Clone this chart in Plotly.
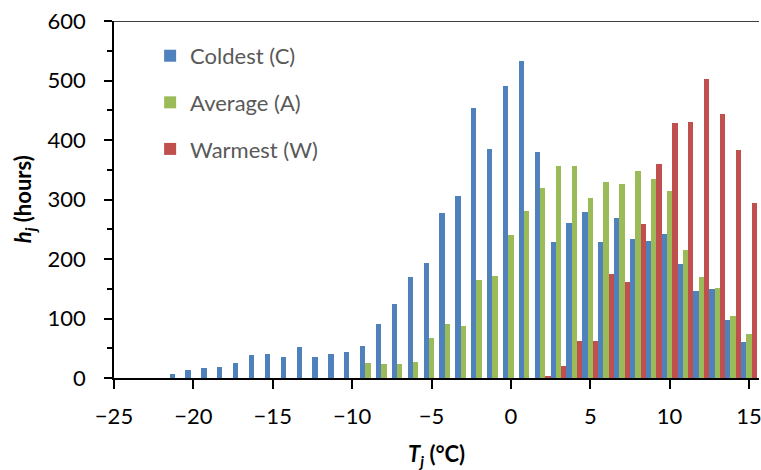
import plotly.graph_objects as go

temps = list(range(-21, 16))
coldest = [6, 13, 17, 18, 26, 39, 40, 35, 52, 36, 40, 43, 53, 90, 124, 169, 194, 278, 306, 454,
           385, 490, 533, 380, 228, 261, 279, 228, 269, 233, 230, 242, 191, 146, 150, 97, 61]
average = [0, 0, 0, 0, 0, 0, 0, 0, 0, 0, 0, 0, 25, 23, 24, 27, 67, 90, 88, 164,
           172, 240, 280, 320, 357, 356, 302, 329, 326, 348, 335, 315, 215, 169, 151, 105, 74]
warmest = [0, 0, 0, 0, 0, 0, 0, 0, 0, 0, 0, 0, 0, 0, 0, 0, 0, 0, 0, 0,
           0, 0, 0, 3, 21, 62, 62, 174, 162, 259, 360, 428, 430, 503, 444, 384, 294]
names = ["Coldest (C)", "Average (A)", "Warmest (W)"]
colors = ["#4F81BD", "#9BBB59", "#C0504D"]
x_ticks = [-25, -20, -15, -10, -5, 0, 5, 10, 15]
y_ticks = [0, 100, 200, 300, 400, 500, 600]

FONT = "Lato"
fig = go.Figure()
for name, vals, col in zip(names, [coldest, average, warmest], colors):
    fig.add_trace(go.Bar(x=temps, y=vals, name=name, marker=dict(color=col, line=dict(width=0)),
                         legendgroup=name))

xr = [-25, 15.63]
yr = [0, 600]
fig.update_layout(
    width=761, height=470, autosize=False,
    margin=dict(l=114, r=2, t=21, b=92, autoexpand=False),
    paper_bgcolor="white", plot_bgcolor="white",
    barmode="group", bargap=0, bargroupgap=0,
    font=dict(family=FONT, size=22, color="black"),
    showlegend=True,
    legend=dict(x=0.056, y=0.961, xanchor="left", yanchor="top",
                bgcolor="rgba(0,0,0,0)", tracegroupgap=15,
                font=dict(family=FONT, size=22, color="#595959"),
                traceorder="grouped"),
    xaxis=dict(range=xr, tickvals=x_ticks, ticks="outside", ticklen=9, tickwidth=1.5,
               tickcolor="black", showline=True, linecolor="black", linewidth=1.5,
               showgrid=False, zeroline=False, ticklabelstandoff=9, automargin=False,
               ticklabeloverflow="allow",
               tickfont=dict(family=FONT, size=22, color="black")),
    yaxis=dict(range=yr, tickvals=y_ticks, ticks="outside", ticklen=8, tickwidth=1.5,
               tickcolor="black", showline=True, linecolor="black", linewidth=1.5,
               showgrid=False, zeroline=False, ticklabelstandoff=14, automargin=False,
               ticklabeloverflow="allow",
               minor=dict(ticks="outside", ticklen=5, tickwidth=1.5, tickcolor="black", dtick=50),
               tickfont=dict(family=FONT, size=22, color="black")),
    xaxis2=dict(range=xr, overlaying="x", anchor="y", side="bottom", tickvals=x_ticks,
                ticks="inside", ticklen=9, tickwidth=1.5, tickcolor="black", automargin=False,
                showticklabels=False, showline=False, showgrid=False, zeroline=False),
    yaxis2=dict(range=yr, overlaying="y", anchor="x", side="left", tickvals=y_ticks,
                ticks="inside", ticklen=8, tickwidth=1.5, tickcolor="black", automargin=False,
                showticklabels=False, showline=False, showgrid=False, zeroline=False),
    shapes=[dict(type="line", xref="paper", yref="y", x0=0, x1=1, y0=600, y1=600,
                 line=dict(color="black", width=1.5))],
    annotations=[
        dict(text="<b><i>h</i><sub><i>j</i></sub> (hours)</b>", xref="paper", yref="paper",
             x=-0.140, y=0.5, xanchor="center", yanchor="middle", textangle=-90,
             showarrow=False, font=dict(family=FONT, size=22, color="black")),
        dict(text="<b><i>T</i><sub><i>j</i></sub> (°C)</b>", xref="paper", yref="paper",
             x=0.5, y=-0.216, xanchor="center", yanchor="middle", showarrow=False,
             font=dict(family=FONT, size=22, color="black")),
    ],
)
# remove the default 8px page margin so the 761x470 figure fills the window exactly
fig.write_html("out.html", config={"displayModeBar": False},
               post_script="document.body.style.margin='0';document.body.style.overflow='hidden';")
